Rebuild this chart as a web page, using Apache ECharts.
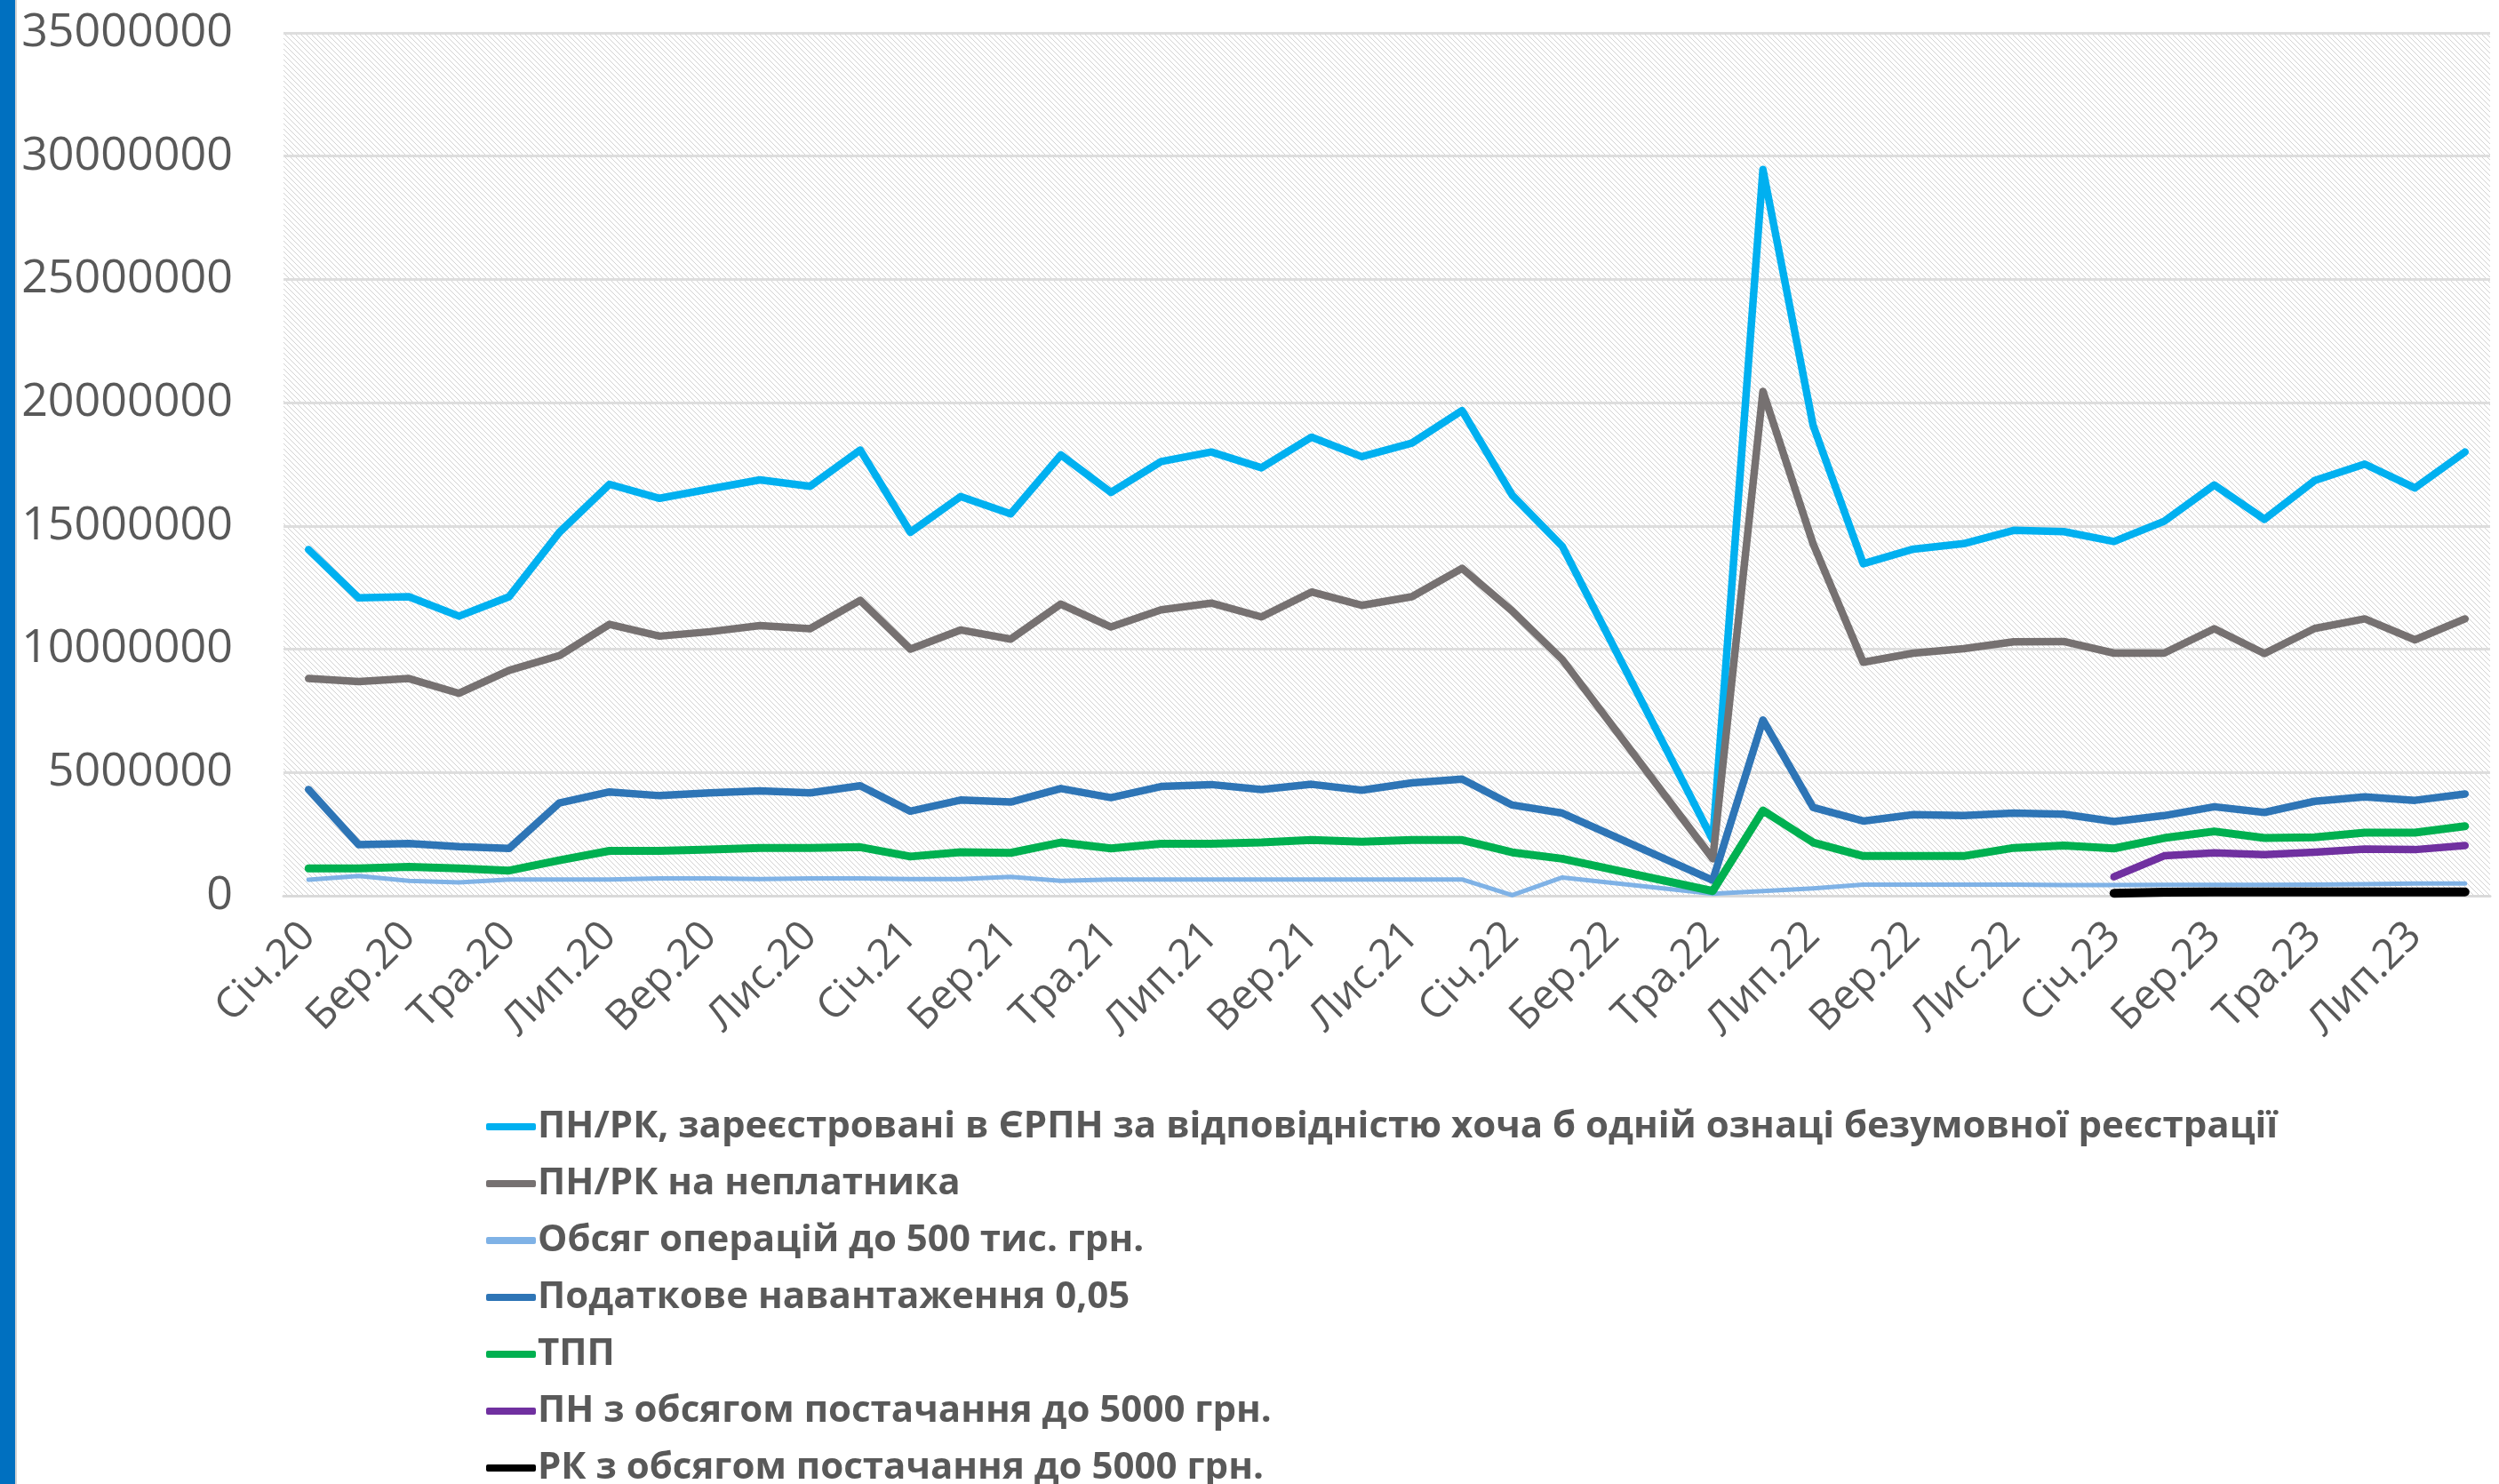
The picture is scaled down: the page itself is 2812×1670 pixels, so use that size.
<!DOCTYPE html>
<html>
<head>
<meta charset="utf-8">
<script src="https://cdn.jsdelivr.net/npm/echarts@6/dist/echarts.min.js"></script>
<style>
  html, body { margin: 0; padding: 0; background: #fff; }
  #chart { width: 2812px; height: 1670px; }
</style>
</head>
<body>
<div id="chart"></div>
<script>
// місяці (категорії осі X)
var categories = [
  'Січ.20','Лют.20','Бер.20','Кві.20','Тра.20','Чер.20','Лип.20','Сер.20','Вер.20','Жов.20','Лис.20','Гру.20',
  'Січ.21','Лют.21','Бер.21','Кві.21','Тра.21','Чер.21','Лип.21','Сер.21','Вер.21','Жов.21','Лис.21','Гру.21',
  'Січ.22','Лют.22','Бер.22','Кві.22','Тра.22','Чер.22','Лип.22','Сер.22','Вер.22','Жов.22','Лис.22','Гру.22',
  'Січ.23','Лют.23','Бер.23','Кві.23','Тра.23','Чер.23','Лип.23','Сер.23'
];

var seriesNames = [
  'ПН/РК, зареєстровані в ЄРПН за відповідністю хоча б одній ознаці безумовної реєстрації',
  'ПН/РК на неплатника',
  'Обсяг операцій до 500 тис. грн.',
  'Податкове навантаження 0,05',
  'ТПП',
  'ПН з обсягом постачання до 5000 грн.',
  'РК з обсягом постачання до 5000 грн.'
];

// значення, млн
var registered = [14.04, 12.08, 12.13, 11.34, 12.13, 14.74, 16.69, 16.12, 16.5, 16.87, 16.61, 18.08,
  14.74, 16.19, 15.49, 17.88, 16.36, 17.61, 18.0, 17.36, 18.6, 17.81, 18.36, 19.68,
  16.25, 14.17, null, null, 2.26, 29.46, 19.08, 13.47, 14.06, 14.28, 14.82, 14.77,
  14.37, 15.19, 16.66, 15.27, 16.84, 17.51, 16.54, 18.0];
var nonPayer = [8.81, 8.69, 8.81, 8.21, 9.14, 9.74, 11.01, 10.53, 10.71, 10.96, 10.83, 11.98,
  10.0, 10.78, 10.41, 11.83, 10.9, 11.6, 11.87, 11.31, 12.32, 11.78, 12.13, 13.28,
  11.55, 9.58, null, null, 1.5, 20.46, 14.28, 9.47, 9.84, 10.02, 10.3, 10.31,
  9.84, 9.84, 10.83, 9.82, 10.84, 11.23, 10.38, 11.23];
var upTo500k = [0.65, 0.8, 0.6, 0.54, 0.66, 0.66, 0.66, 0.7, 0.7, 0.68, 0.7, 0.7,
  0.68, 0.68, 0.77, 0.6, 0.66, 0.66, 0.66, 0.66, 0.66, 0.66, 0.66, 0.66,
  0.02, 0.74, null, null, 0.08, 0.19, 0.3, 0.45, 0.45, 0.45, 0.45, 0.43,
  0.43, 0.44, 0.44, 0.44, 0.45, 0.47, 0.5, 0.5];
var taxLoad = [4.31, 2.07, 2.12, 1.99, 1.92, 3.76, 4.21, 4.06, 4.17, 4.25, 4.17, 4.46,
  3.43, 3.88, 3.8, 4.35, 3.98, 4.43, 4.51, 4.31, 4.52, 4.28, 4.58, 4.73,
  3.68, 3.35, null, null, 0.63, 7.13, 3.58, 3.03, 3.29, 3.25, 3.35, 3.31,
  3.01, 3.25, 3.61, 3.38, 3.83, 4.01, 3.87, 4.13];
var tpp = [1.11, 1.11, 1.17, 1.11, 1.02, 1.44, 1.82, 1.82, 1.87, 1.94, 1.94, 1.97,
  1.59, 1.77, 1.74, 2.16, 1.92, 2.11, 2.11, 2.16, 2.26, 2.19, 2.26, 2.26,
  1.76, 1.5, null, null, 0.19, 3.46, 2.16, 1.61, 1.61, 1.61, 1.94, 2.04,
  1.92, 2.34, 2.61, 2.34, 2.37, 2.56, 2.56, 2.82];
var pnSmall = [null, null, null, null, null, null, null, null, null, null, null, null,
  null, null, null, null, null, null, null, null, null, null, null, null,
  null, null, null, null, null, null, null, null, null, null, null, null,
  0.77, 1.62, 1.74, 1.67, 1.77, 1.89, 1.87, 2.04];
var rkSmall = [null, null, null, null, null, null, null, null, null, null, null, null,
  null, null, null, null, null, null, null, null, null, null, null, null,
  null, null, null, null, null, null, null, null, null, null, null, null,
  0.1, 0.14, 0.15, 0.15, 0.15, 0.15, 0.15, 0.15];

var yTicks = [0, 5000000, 10000000, 15000000, 20000000, 25000000, 30000000, 35000000];

function mln(arr) {
  return arr.map(function (v) { return v == null ? null : Math.round(v * 1000000); });
}

// штрихування фону області побудови
var hatch = document.createElement('canvas');
hatch.width = 6;
hatch.height = 6;
var hctx = hatch.getContext('2d');
hctx.fillStyle = '#ffffff';
hctx.fillRect(0, 0, 6, 6);
hctx.fillStyle = '#d2d2d2';
for (var i = 0; i < 6; i++) {
  hctx.fillRect(i, i, 1, 1);
}

var chart = echarts.init(document.getElementById('chart'));

function line(idx, data, color, width) {
  return {
    name: seriesNames[idx],
    type: 'line',
    data: mln(data),
    symbol: 'none',
    showSymbol: false,
    connectNulls: true,
    lineStyle: { color: color, width: width, cap: 'round', join: 'round' },
    itemStyle: { color: color },
    emphasis: { disabled: true }
  };
}

var option = {
  backgroundColor: '#ffffff',
  animation: false,
  graphic: [
    { type: 'rect', shape: { x: 0, y: 0, width: 17, height: 1670 }, style: { fill: '#0070C0' } },
    { type: 'rect', shape: { x: 17, y: 0, width: 2, height: 1670 }, style: { fill: '#d4d4d4' } }
  ],
  grid: {
    left: 319,
    right: 10,
    top: 37,
    bottom: 662,
    show: true,
    borderWidth: 0,
    backgroundColor: { image: hatch, repeat: 'repeat' }
  },
  legend: {
    orient: 'vertical',
    left: 542,
    top: 1231,
    height: 470,
    icon: 'roundRect',
    itemWidth: 56,
    itemHeight: 8,
    itemGap: 0,
    selectedMode: false,
    data: seriesNames,
    textStyle: {
      fontFamily: 'Open Sans',
      fontWeight: 'bold',
      fontSize: 42,
      color: '#595959',
      lineHeight: 64,
      padding: [0, 0, 0, -3]
    }
  },
  xAxis: {
    type: 'category',
    data: categories,
    boundaryGap: true,
    axisLine: { show: true, lineStyle: { color: '#d9d9d9', width: 3 } },
    axisTick: { show: false },
    axisLabel: {
      interval: 1,
      rotate: 45,
      margin: 38,
      fontFamily: 'Open Sans',
      fontSize: 47,
      color: '#595959'
    }
  },
  yAxis: {
    type: 'value',
    min: yTicks[0],
    max: yTicks[yTicks.length - 1],
    interval: 5000000,
    axisLine: { show: false },
    axisTick: { show: false },
    splitLine: { lineStyle: { color: '#dddddd', width: 3 } },
    axisLabel: {
      margin: 57,
      fontFamily: 'Open Sans',
      fontSize: 52,
      color: '#595959',
      formatter: function (v) { return String(v); }
    }
  },
  series: [
    line(0, registered, '#00B0F0', 8.5),
    line(1, nonPayer, '#767171', 8.5),
    line(2, upTo500k, '#7FB2E6', 5),
    line(3, taxLoad, '#2E75B6', 8.5),
    line(4, tpp, '#00B050', 9),
    line(5, pnSmall, '#7030A0', 8.5),
    line(6, rkSmall, '#000000', 10)
  ]
};

chart.setOption(option);
</script>
</body>
</html>
